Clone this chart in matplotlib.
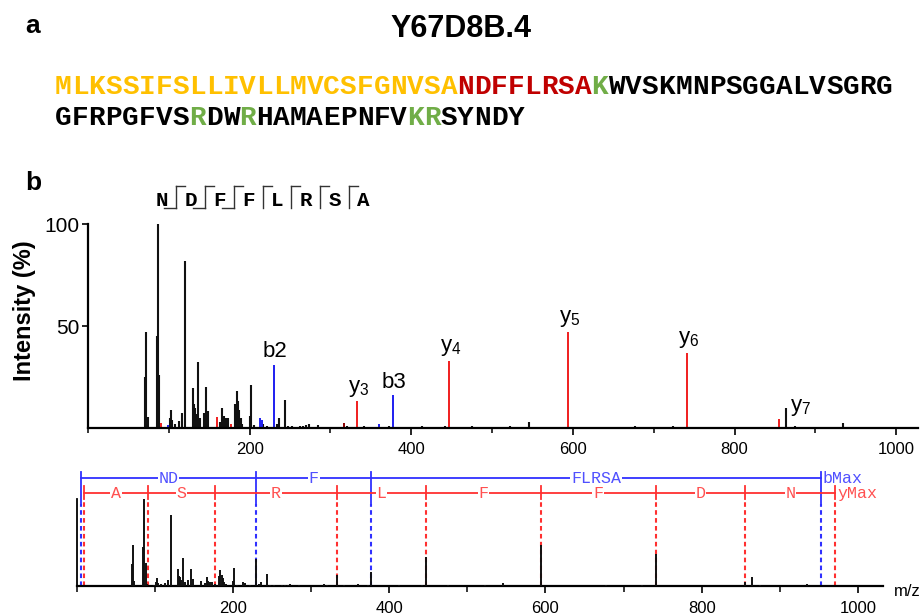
import matplotlib.pyplot as plt
from matplotlib.lines import Line2D
from matplotlib.ticker import MultipleLocator

plt.rcParams['font.family'] = ['Liberation Sans', 'DejaVu Sans']
plt.rcParams['mathtext.fontset'] = 'custom'
plt.rcParams['mathtext.rm'] = 'Liberation Sans'
plt.rcParams['mathtext.it'] = 'Liberation Sans'

W, H = 923, 615
MONO = 'Liberation Mono'

# protein sequence, split into colored pieces
seq_line1 = ["MLKSSIFSLLIVLLMVCSFGNVSA", "NDFFLRSA", "K", "WVSKMNPSGGALVSGRG"]
seq_line1_colors = ["#ffc000", "#c00000", "#70ad47", "#000000"]
seq_line2 = ["GFRPGFVS", "R", "DW", "R", "HAMAEPNFV", "KR", "SYNDY"]
seq_line2_colors = ["#000000", "#70ad47", "#000000", "#70ad47", "#000000", "#70ad47", "#000000"]

# matched peptide and its fragment breaks
peptide = "NDFFLRSA"
b_breaks = [1, 2, 3]
y_breaks = [1, 2, 3, 4, 5, 6, 7]

# spectrum peaks (m/z, relative intensity %), grouped by ion type
black_mz = [70.6, 72.2, 73.9, 85.4, 86.7, 88.3, 101, 102.3, 104.4, 108, 112.7, 116.8,
            120.5, 129.5, 130.7, 132.4, 134, 136.5, 138, 143, 146.4, 148.5, 163.8, 166.2,
            167.9, 170.8, 173.3, 182.3, 184, 185.6, 187.3, 188.9, 191, 200, 201.7, 205,
            216, 221.9, 233.9, 236.4, 243.4, 248, 252.4, 262.7, 266, 270, 273, 284.6,
            320, 342, 373, 413, 442, 475, 522, 546, 677, 724, 864, 875, 934.7]
black_int = [25, 47, 5.6, 45, 100, 26, 5, 9, 4, 2, 3.6, 7.4,
             82, 19.7, 12, 10, 7, 32.5, 5, 7.4, 20, 8.5, 3, 10,
             6, 5, 5, 12, 18, 13, 9, 5, 2, 6, 21, 1.5,
             2, 1, 2, 5, 13.5, 1, 1, 1, 1.2, 1.5, 2, 1.5,
             1, 1, 1, 1, 1, 1, 1, 3, 1, 1, 10, 1, 2.5]
y_mz = [90.4, 159.7, 177, 333, 447, 594, 741, 855]
y_int = [2.5, 5.6, 2, 13, 33, 47, 36.8, 4.4]
b_mz = [99, 213.2, 214.8, 230, 360, 377]
b_int = [1.5, 5, 4, 31, 2, 16]
other_mz = [317]
other_int = [2.5]

# annotated ions
ion_labels = ["b2", "y$_3$", "b3", "y$_4$", "y$_5$", "y$_6$"]
ion_label_mz = [230, 333, 377, 447, 594, 741]
ion_label_int = [31, 13, 16, 33, 47, 36.8]
side_label = "y$_7$"
side_label_mz = 864
side_label_int = 10

# fragment ladder (lower panel)
b_ladder_mz = [5, 230, 377, 953]
b_ladder_labels = ["ND", "F", "FLRSA"]
y_ladder_mz = [9, 91, 177, 333, 447, 594, 741, 856, 971]
y_ladder_labels = ["A", "S", "R", "L", "F", "F", "D", "N"]

RED = "#f01e1e"
BLUE = "#1e1ef0"
BLACK = "#111111"


def fx(x):
    return x / W


def fy(y):
    return 1 - y / H


fig = plt.figure(figsize=(W / 100, H / 100), dpi=100)

# ---- panel a: title and sequence
fig.text(fx(33), fy(26), "a", fontsize=19, fontweight='bold', ha='center', va='center')
fig.text(fx(461), fy(29), "Y67D8B.4", fontsize=22, fontweight='bold', ha='center', va='center')

char_w = 16.76
for line, colors, ypos in [(seq_line1, seq_line1_colors, 87), (seq_line2, seq_line2_colors, 118)]:
    i = 0
    for piece, col in zip(line, colors):
        for ch in piece:
            fig.text(fx(55 + (i + 0.5) * char_w), fy(ypos), ch, color=col, fontsize=20,
                     family=MONO, fontweight='bold', ha='center', va='center')
            i += 1

# ---- panel b
fig.text(fx(33), fy(183), "b", fontsize=19, fontweight='bold', ha='center', va='center')

# peptide with fragment marks
lx0, ldx = 162, 28.75
for i, aa in enumerate(peptide):
    fig.text(fx(lx0 + i * ldx), fy(200), aa, fontsize=15, family=MONO,
             fontweight='bold', ha='center', va='center')
for k in range(1, len(peptide)):
    sx = lx0 + (k - 0.5) * ldx
    fig.add_artist(Line2D([fx(sx), fx(sx)], [fy(186), fy(208)], color='#333333', lw=1))
    if k in y_breaks:
        fig.add_artist(Line2D([fx(sx), fx(sx + 9)], [fy(186), fy(186)], color='#333333', lw=1))
    if k in b_breaks:
        fig.add_artist(Line2D([fx(sx - 12), fx(sx)], [fy(208), fy(208)], color='#333333', lw=1))

# main spectrum
ax = fig.add_axes([fx(88), fy(428), (918 - 88) / W, (428 - 224) / H])
ax.vlines(black_mz, 0, black_int, colors=BLACK, lw=1.5)
ax.vlines(y_mz, 0, y_int, colors=RED, lw=1.4)
ax.vlines(b_mz, 0, b_int, colors=BLUE, lw=1.4)
ax.vlines(other_mz, 0, other_int, colors='#8b0000', lw=1.4)
ax.set_xlim(0, 1027)
ax.set_ylim(0, 100)
for s in ['top', 'right']:
    ax.spines[s].set_visible(False)
for s in ['left', 'bottom']:
    ax.spines[s].set_linewidth(1.6)
ax.set_yticks([50, 100])
ax.tick_params(axis='y', labelsize=15, length=4.5, width=1.2, pad=1.5)
ax.xaxis.set_major_locator(MultipleLocator(200))
ax.xaxis.set_minor_locator(MultipleLocator(100))
ax.tick_params(axis='x', which='major', labelsize=12, length=5, width=1.2, pad=5)
ax.tick_params(axis='x', which='minor', length=3.5, width=1.1)
ax.set_xticks([200, 400, 600, 800, 1000])

for lab, m, h in zip(ion_labels, ion_label_mz, ion_label_int):
    ax.annotate(lab, (m, h), xytext=(1, 2), textcoords='offset points',
                ha='center', va='bottom', fontsize=16, annotation_clip=False)
ax.annotate(side_label, (side_label_mz, side_label_int), xytext=(3, 0),
            textcoords='offset points', ha='left', va='center', fontsize=16)

fig.text(fx(24), fy(311), "Intensity (%)", rotation=90, fontsize=17,
         fontweight='bold', ha='center', va='center')

# lower panel: same spectrum with fragment ladder
ax2 = fig.add_axes([fx(76.7), fy(586), (883 - 76.7) / W, 120 / H])
all_mz = black_mz + y_mz + b_mz + other_mz
all_int = black_int + y_int + b_int + other_int
ax2.set_xlim(0, 1032)
ax2.set_ylim(0, 138.4)

dash = (0, (2.2, 1.6))
blue_l, red_l = "#3030ff", "#ff3030"
for m in b_ladder_mz:
    ax2.plot([m, m], [95, 132], color=blue_l, lw=1.3)
    ax2.plot([m, m], [0, 95], color=blue_l, lw=1.5, ls=dash)
for m in y_ladder_mz:
    ax2.plot([m, m], [100, 115], color=red_l, lw=1.3)
    ax2.plot([m, m], [0, 100], color=red_l, lw=1.5, ls=dash)
ax2.plot([b_ladder_mz[0], b_ladder_mz[-1]], [124.2, 124.2], color=blue_l, lw=1.3)
ax2.plot([y_ladder_mz[0], y_ladder_mz[-1]], [106.9, 106.9], color=red_l, lw=1.3)

box = dict(facecolor='white', edgecolor='none', pad=0.6)
for i, lab in enumerate(b_ladder_labels):
    ax2.text((b_ladder_mz[i] + b_ladder_mz[i + 1]) / 2, 124.2, lab, color='#5050ff',
             family=MONO, fontsize=12, ha='center', va='center', bbox=box)
for i, lab in enumerate(y_ladder_labels):
    ax2.text((y_ladder_mz[i] + y_ladder_mz[i + 1]) / 2, 106.9, lab, color='#ff5050',
             family=MONO, fontsize=12, ha='center', va='center', bbox=box)
ax2.text(b_ladder_mz[-1] + 2, 124.2, "bMax", color='#5050ff', family=MONO,
         fontsize=12, ha='left', va='center')
ax2.text(y_ladder_mz[-1] + 3, 106.9, "yMax", color='#ff5050', family=MONO,
         fontsize=12, ha='left', va='center')

ax2.vlines(all_mz, 0, all_int, colors=BLACK, lw=1.4, zorder=3)

for s in ['top', 'right']:
    ax2.spines[s].set_visible(False)
ax2.spines['left'].set_bounds(0, 100)
ax2.spines['left'].set_linewidth(1.3)
ax2.spines['bottom'].set_linewidth(1.6)
ax2.set_yticks([])
ax2.xaxis.set_major_locator(MultipleLocator(200))
ax2.xaxis.set_minor_locator(MultipleLocator(100))
ax2.set_xticks([200, 400, 600, 800, 1000])
ax2.tick_params(axis='x', which='major', labelsize=12, length=5, width=1.2, pad=6)
ax2.tick_params(axis='x', which='minor', length=4, width=1.1)
fig.text(fx(907), fy(591), "m/z", fontsize=12, ha='center', va='center')

fig.savefig("out.png", dpi=100)
